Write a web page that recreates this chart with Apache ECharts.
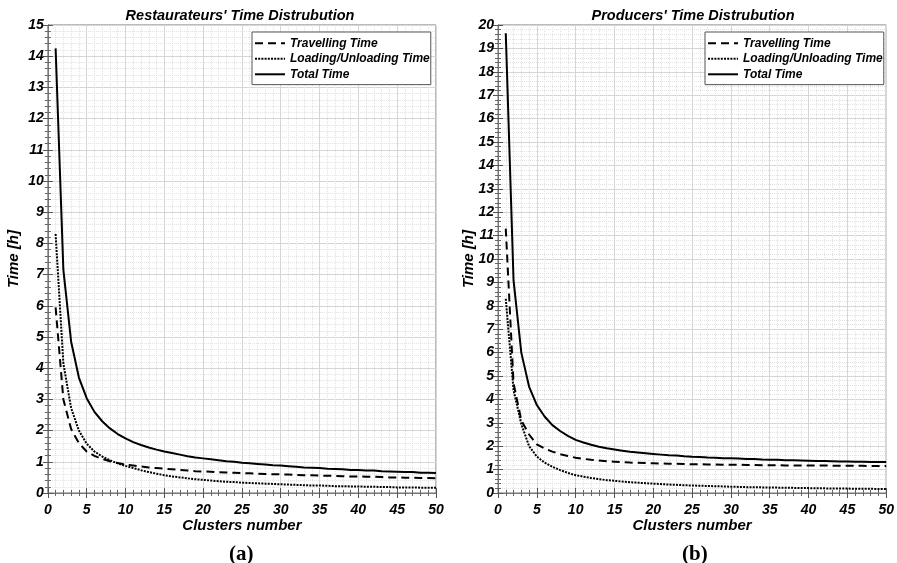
<!DOCTYPE html>
<html>
<head>
    <title>Time Distrubution</title>
    <script src="https://cdn.jsdelivr.net/npm/echarts@6.0.0/dist/echarts.min.js"></script>
    <style>
      body { margin: 0; background: #fff; }
    </style>
</head>
<body>
    <div id="chart" style="width: 897px; height: 563px;"></div>
    <script>
        // clusters number (x values)
        var clusters = [1, 2, 3, 4, 5, 6, 7, 8, 9, 10, 11, 12, 13, 14, 15, 16, 17, 18, 19, 20,
          21, 22, 23, 24, 25, 26, 27, 28, 29, 30, 31, 32, 33, 34, 35, 36, 37, 38, 39, 40,
          41, 42, 43, 44, 45, 46, 47, 48, 49, 50];

        // (a) restaurateurs
        var restTravel = [5.95, 3.0, 2.05, 1.6, 1.33, 1.19, 1.09, 1.02, 0.96, 0.91,
          0.88, 0.85, 0.82, 0.80, 0.78, 0.76, 0.74, 0.72, 0.70, 0.69,
          0.68, 0.67, 0.66, 0.65, 0.64, 0.63, 0.62, 0.61, 0.60, 0.60,
          0.59, 0.58, 0.57, 0.57, 0.56, 0.55, 0.55, 0.54, 0.53, 0.53,
          0.52, 0.52, 0.51, 0.50, 0.50, 0.49, 0.49, 0.48, 0.48, 0.47];
        var restLoading = [8.3, 4.15, 2.72, 2.0, 1.58, 1.33, 1.17, 1.05, 0.95, 0.87,
          0.80, 0.73, 0.67, 0.62, 0.57, 0.53, 0.50, 0.47, 0.44, 0.42,
          0.40, 0.38, 0.36, 0.35, 0.33, 0.32, 0.31, 0.30, 0.29, 0.28,
          0.27, 0.26, 0.25, 0.24, 0.24, 0.23, 0.22, 0.22, 0.21, 0.21,
          0.20, 0.20, 0.19, 0.19, 0.18, 0.18, 0.18, 0.17, 0.17, 0.17];
        var restTotal = [14.25, 7.15, 4.85, 3.7, 3.04, 2.6, 2.3, 2.07, 1.89, 1.75,
          1.63, 1.54, 1.46, 1.39, 1.33, 1.28, 1.23, 1.18, 1.14, 1.11,
          1.08, 1.05, 1.02, 1.00, 0.97, 0.95, 0.93, 0.91, 0.89, 0.88,
          0.86, 0.84, 0.82, 0.81, 0.80, 0.78, 0.77, 0.76, 0.74, 0.74,
          0.72, 0.72, 0.70, 0.69, 0.68, 0.67, 0.67, 0.65, 0.65, 0.64];

        // (b) producers
        var prodTravel = [11.3, 4.7, 3.1, 2.5, 2.08, 1.9, 1.77, 1.66, 1.58, 1.51,
          1.46, 1.42, 1.39, 1.36, 1.34, 1.32, 1.30, 1.29, 1.28, 1.27,
          1.26, 1.25, 1.25, 1.24, 1.23, 1.23, 1.22, 1.22, 1.21, 1.21,
          1.21, 1.20, 1.20, 1.19, 1.19, 1.19, 1.18, 1.18, 1.18, 1.17,
          1.17, 1.17, 1.17, 1.16, 1.16, 1.16, 1.16, 1.15, 1.15, 1.15];
        var prodLoading = [8.3, 4.4, 2.95, 2.0, 1.56, 1.30, 1.12, 0.98, 0.86, 0.76,
          0.70, 0.64, 0.59, 0.55, 0.52, 0.49, 0.46, 0.44, 0.42, 0.40,
          0.38, 0.36, 0.35, 0.33, 0.32, 0.31, 0.30, 0.29, 0.28, 0.27,
          0.26, 0.25, 0.25, 0.24, 0.23, 0.23, 0.22, 0.22, 0.21, 0.21,
          0.20, 0.20, 0.19, 0.19, 0.19, 0.18, 0.18, 0.18, 0.17, 0.17];
        var prodTotal = [19.65, 9.1, 6.0, 4.55, 3.76, 3.27, 2.9, 2.65, 2.44, 2.27,
          2.16, 2.06, 1.98, 1.91, 1.86, 1.81, 1.76, 1.73, 1.70, 1.67,
          1.64, 1.61, 1.60, 1.57, 1.55, 1.54, 1.52, 1.51, 1.49, 1.48,
          1.47, 1.45, 1.45, 1.43, 1.42, 1.42, 1.40, 1.40, 1.39, 1.38,
          1.37, 1.37, 1.36, 1.35, 1.35, 1.34, 1.34, 1.33, 1.32, 1.32];

        var seriesNames = ['Travelling Time', 'Loading/Unloading Time', 'Total Time'];
        var xTicks = { min: 0, max: 50, interval: 5 };

        var font = 'Liberation Sans, Arial, sans-serif';
        var boldItalic = { fontFamily: font, fontWeight: 'bold', fontStyle: 'italic', color: '#000' };

        function pairs(ys) {
          return clusters.map(function (c, i) { return [c, ys[i]]; });
        }

        // main bottom / left axes
        function xMain(gi) {
          return {
            type: 'value', gridIndex: gi, min: xTicks.min, max: xTicks.max, interval: xTicks.interval,
            name: 'Clusters number', nameLocation: 'middle', nameGap: 20, nameMoveOverlap: false,
            nameTextStyle: Object.assign({ fontSize: 15 }, boldItalic),
            axisLine: { lineStyle: { color: '#777' } },
            axisTick: { inside: true, length: 5, lineStyle: { color: '#555' } },
            minorTick: { show: true, splitNumber: 5, length: 3, lineStyle: { color: '#666' } },
            axisLabel: Object.assign({ fontSize: 14, margin: 5, showMinLabel: true, showMaxLabel: true, hideOverlap: false }, boldItalic),
            splitLine: { show: true, lineStyle: { color: '#d6d6d6', width: 1 } },
            minorSplitLine: { show: true, lineStyle: { color: '#e2e2e2', type: 'dotted' } }
          };
        }
        function yMain(gi, max, gap, showEnds) {
          return {
            type: 'value', gridIndex: gi, min: 0, max: max, interval: 1,
            name: 'Time [h]', nameLocation: 'middle', nameGap: gap, nameMoveOverlap: false,
            nameTextStyle: Object.assign({ fontSize: 15 }, boldItalic),
            axisLine: { show: true, lineStyle: { color: '#777' } },
            axisTick: { show: true, inside: true, length: 5, lineStyle: { color: '#555' } },
            minorTick: { show: true, splitNumber: 5, length: 3, lineStyle: { color: '#666' } },
            axisLabel: Object.assign({
              fontSize: 14, margin: 4, showMinLabel: showEnds, showMaxLabel: showEnds, hideOverlap: false
            }, boldItalic),
            splitLine: { show: true, lineStyle: { color: '#d6d6d6', width: 1 } },
            minorSplitLine: { show: true, lineStyle: { color: '#e2e2e2', type: 'dotted' } }
          };
        }
        // labels only for the first and last y tick (the dense axis drops them)
        function yEnds(gi, max) {
          return {
            type: 'value', gridIndex: gi, position: 'left', min: 0, max: max, interval: max,
            axisLine: { show: false }, axisTick: { show: false }, splitLine: { show: false },
            axisLabel: Object.assign({ fontSize: 14, margin: 4, showMinLabel: true, showMaxLabel: true }, boldItalic)
          };
        }
        // box axes (top / right) with inward ticks only
        function xBox(gi) {
          return {
            type: 'value', gridIndex: gi, position: 'top', min: xTicks.min, max: xTicks.max, interval: xTicks.interval,
            axisLine: { show: true, lineStyle: { color: '#777' } },
            axisTick: { inside: true, length: 5, lineStyle: { color: '#555' } },
            minorTick: { show: true, splitNumber: 5, length: 3, lineStyle: { color: '#666' } },
            axisLabel: { show: false }, splitLine: { show: false }
          };
        }
        function yBox(gi, max) {
          return {
            type: 'value', gridIndex: gi, position: 'right', min: 0, max: max, interval: 1,
            axisLine: { show: true, lineStyle: { color: '#777' } },
            axisTick: { show: true, inside: true, length: 5, lineStyle: { color: '#555' } },
            minorTick: { show: true, splitNumber: 5, length: 3, lineStyle: { color: '#666' } },
            axisLabel: { show: false }, splitLine: { show: false }
          };
        }

        function lines(xi, yi, travel, loading, total) {
          var styles = [
            { type: [8, 5], width: 2 },
            { type: [2, 1.2], width: 2 },
            { type: 'solid', width: 2 }
          ];
          return [travel, loading, total].map(function (ys, k) {
            return {
              type: 'line', name: seriesNames[k], xAxisIndex: xi, yAxisIndex: yi,
              data: pairs(ys), symbol: 'none', showSymbol: false,
              itemStyle: { color: '#000' },
              lineStyle: Object.assign({ color: '#000' }, styles[k]),
              z: 5 - k
            };
          });
        }

        function legend(left) {
          return {
            left: left, top: 32, orient: 'vertical',
            data: seriesNames,
            itemWidth: 30, itemHeight: 10, itemGap: -5.2,
            padding: [1, 1, 0, 2],
            backgroundColor: '#fff', borderColor: '#555', borderWidth: 1,
            itemStyle: { opacity: 0 },
            textStyle: Object.assign({ fontSize: 12, lineHeight: 13, padding: 0 }, boldItalic),
            selectedMode: false
          };
        }

        var chart = echarts.init(document.getElementById('chart'));
        var option = {
          backgroundColor: '#fff',
          animation: false,
          title: [
            { text: "Restaurateurs' Time Distrubution", left: 240, top: 0, padding: [4, 0, 0, 0], textAlign: 'center',
              textStyle: Object.assign({ fontSize: 14.5 }, boldItalic) },
            { text: "Producers' Time Distrubution", left: 693, top: 0, padding: [4, 0, 0, 0], textAlign: 'center',
              textStyle: Object.assign({ fontSize: 14.5 }, boldItalic) }
          ],
          legend: [legend(252), legend(705)],
          grid: [
            { left: 43, top: 25, width: 393, height: 468, show: true, borderColor: '#777', borderWidth: 1, containLabel: false },
            { left: 498, top: 25, width: 391, height: 468, show: true, borderColor: '#777', borderWidth: 1, containLabel: false }
          ],
          xAxis: [xMain(0), xMain(1), xBox(0), xBox(1)],
          yAxis: [yMain(0, 15, 21, true), yMain(1, 20, 16, false), yBox(0, 15), yBox(1, 20), yEnds(1, 20)],
          series: [].concat(
            lines(0, 0, restTravel, restLoading, restTotal),
            lines(1, 1, prodTravel, prodLoading, prodTotal)
          ),
          graphic: [
            { type: 'text', left: 229, top: 538, style: { text: '(a)', font: 'bold 21px "Liberation Serif", "Times New Roman", serif', fill: '#000' } },
            { type: 'text', left: 682, top: 538, style: { text: '(b)', font: 'bold 21px "Liberation Serif", "Times New Roman", serif', fill: '#000' } }
          ]
        };
        chart.setOption(option);
    </script>
</body>
</html>
